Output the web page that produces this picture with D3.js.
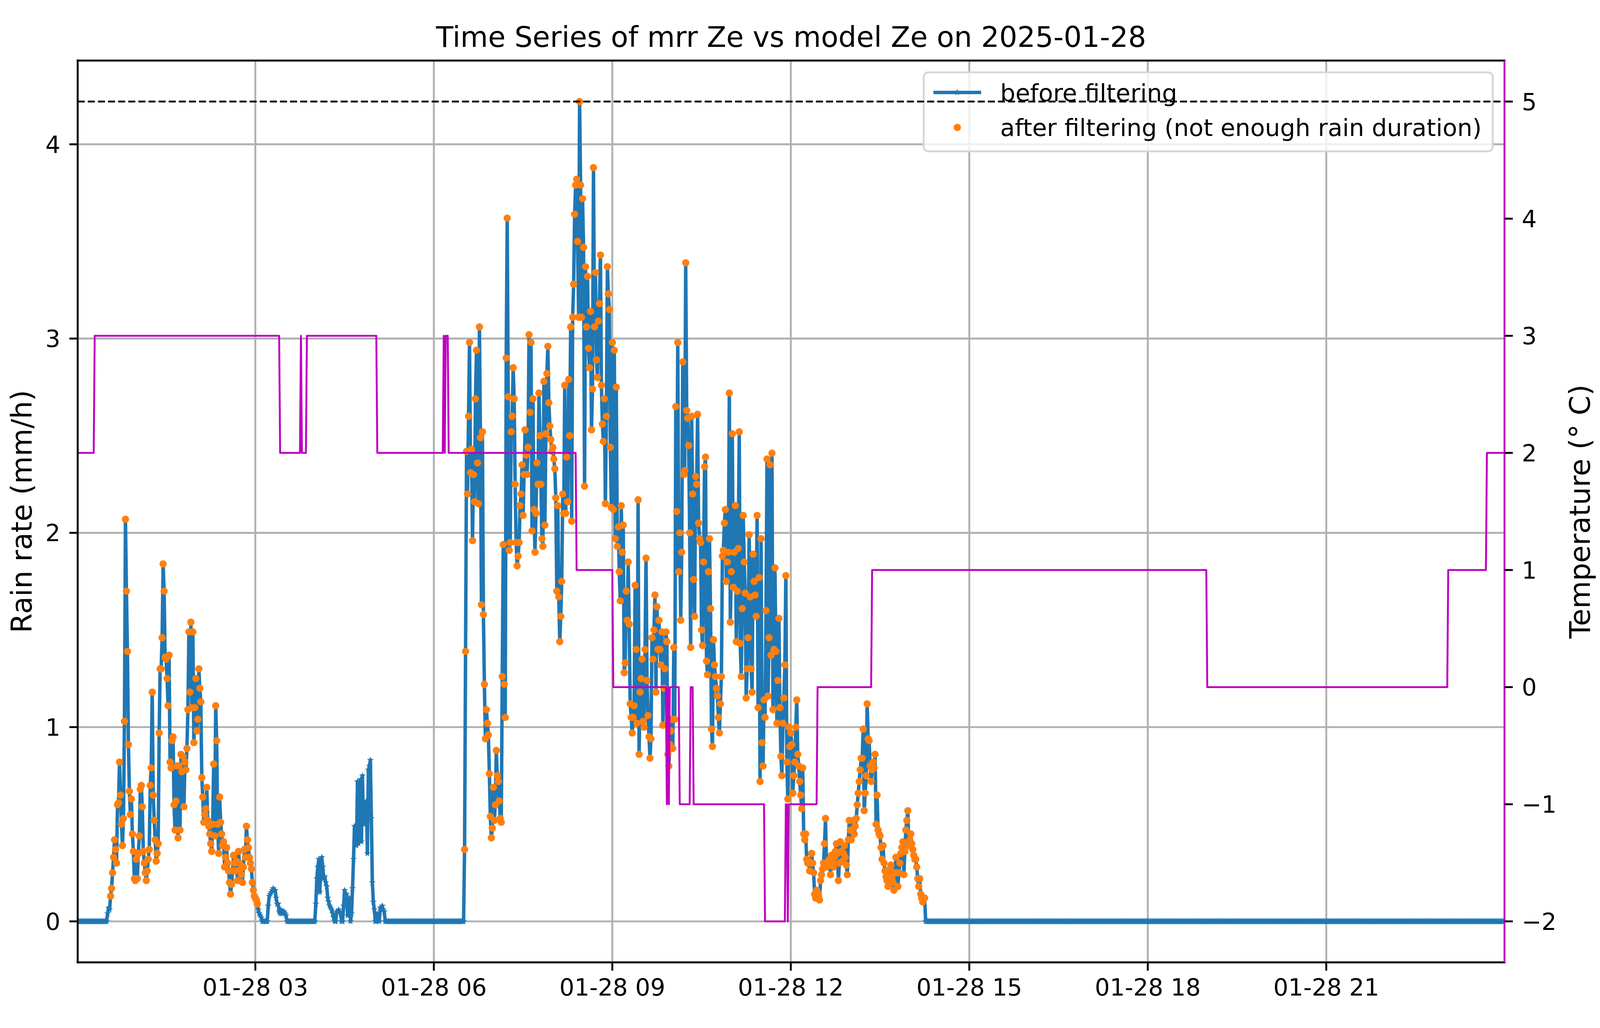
<!DOCTYPE html>
<html>
<head>
<meta charset="utf-8">
<script src="https://cdn.jsdelivr.net/npm/d3@7"></script>
<style>
html, body { margin: 0; padding: 0; background: #fff; overflow: hidden; }
text { font-family: "DejaVu Sans", sans-serif; fill: #000; }
</style>
</head>
<body>
<script>
// rain rate (mm/h), one value per minute for each rainy spell; zero elsewhere in the day
var event1Start = "00:30";
var event1 = [0, 0.04, 0.07, 0.06, 0.13, 0.17, 0.25, 0.33, 0.42, 0.37,
	0.30, 0.60, 0.61, 0.82, 0.65, 0.50, 0.39, 0.53, 1.03, 2.07,
	1.70, 1.39, 0.91, 0.67, 0.55, 0.63, 0.45, 0.36, 0.22, 0.21,
	0.32, 0.22, 0.35, 0.44, 0.68, 0.70, 0.59, 0.36, 0.30, 0.25,
	0.21, 0.26, 0.32, 0.37, 0.70, 0.79, 1.18, 0.65, 0.52, 0.42,
	0.31, 0.35, 0.40, 0.97, 1.30, 1.30, 1.46, 1.84, 1.70, 1.36,
	1.35, 1.25, 1.11, 1.37, 0.82, 0.79, 0.93, 0.95, 0.60, 0.47,
	0.62, 0.80, 0.43, 0.80, 0.47, 0.86, 0.77, 0.85, 0.59, 0.82,
	0.78, 0.89, 1.09, 1.49, 1.18, 1.54, 1.10, 1.49, 0.92, 1.10,
	1.25, 0.98, 1.04, 1.30, 1.20, 1.13, 0.74, 0.64, 0.51, 0.55,
	0.58, 0.69, 0.52, 0.49, 0.45, 0.40, 0.36, 0.50, 0.81, 0.44,
	1.11, 0.93, 0.50, 0.35, 0.64, 0.51, 0.45, 0.39, 0.41, 0.28,
	0.33, 0.38, 0.30, 0.26, 0.20, 0.14, 0.19, 0.26, 0.34, 0.30,
	0.26, 0.31, 0.21, 0.36, 0.30, 0.27, 0.24, 0.20, 0.28, 0.37,
	0.33, 0.49, 0.42, 0.38, 0.33, 0.30, 0.27, 0.20, 0.16, 0.13,
	0.12, 0.11, 0.09, 0.06, 0.04, 0.03, 0.02, 0, 0, 0,
	0, 0, 0, 0.08, 0.13, 0.14, 0.15, 0.16, 0.17, 0.16,
	0.16, 0.12, 0.09, 0.09, 0.05, 0.04, 0.06, 0.04, 0.05, 0.05,
	0.04, 0.03, 0];

var event2Start = "04:00";
var event2 = [0, 0.09, 0.22, 0.28, 0.32, 0.15, 0.26, 0.33, 0.28, 0.22,
	0.23, 0.20, 0.18, 0.12, 0.10, 0.08, 0.07, 0.06, 0.04, 0.02,
	0, 0, 0.05, 0.05, 0.06, 0.05, 0.04, 0, 0, 0.08,
	0.16, 0.13, 0.14, 0.03, 0.08, 0.12, 0, 0.04, 0.17, 0.32,
	0.49, 0.44, 0.39, 0.72, 0.40, 0.55, 0.73, 0.41, 0.75, 0.50,
	0.55, 0.58, 0.62, 0.35, 0.78, 0.80, 0.83, 0.53, 0.20, 0.10,
	0.06, 0, 0, 0.04, 0.02, 0, 0.07, 0.06, 0.08, 0.06,
	0.05, 0];

var event3Start = "06:29";
var event3 = [0, 0, 0.37, 1.39, 2.42, 2.20, 2.60, 2.98, 2.31, 2.43, 1.96,
	2.30, 2.16, 2.69, 2.94, 2.36, 2.15, 3.06, 2.49, 1.63, 2.52,
	1.58, 1.22, 0.94, 1.09, 1.02, 0.96, 0.76, 0.54, 0.43, 0.48,
	0.69, 0.52, 0.60, 0.88, 0.75, 0.72, 0.62, 0.53, 0.51, 1.26,
	1.94, 1.22, 1.05, 2.90, 3.62, 2.70, 1.91, 1.95, 2.52, 2.60,
	2.85, 2.69, 2.25, 1.95, 1.83, 1.88, 1.95, 2.14, 2.20, 2.35,
	2.09, 2.30, 2.53, 2.40, 2.30, 2.44, 3.02, 2.62, 2.98, 2.01,
	2.69, 2.12, 1.90, 2.10, 2.36, 2.25, 2.72, 2.50, 2.25, 1.97,
	1.93, 2.78, 2.04, 2.51, 2.82, 2.96, 2.67, 2.55, 2.48, 2.42,
	2.44, 2.38, 2.33, 2.18, 1.70, 2.14, 1.67, 1.44, 1.57, 1.75,
	2.20, 2.10, 2.76, 2.10, 2.39, 2.16, 2.79, 2.50, 3.06, 2.06,
	3.11, 3.28, 3.64, 3.79, 3.82, 3.50, 3.11, 4.22, 3.79, 3.11,
	3.72, 3.47, 2.24, 3.37, 3.06, 3.32, 2.95, 2.85, 3.14, 2.53,
	2.74, 3.88, 3.06, 3.34, 2.89, 2.80, 3.09, 3.18, 3.43, 2.76,
	2.56, 2.47, 2.69, 2.15, 2.60, 3.37, 3.23, 3.15, 2.44, 2.13,
	2.98, 2.12, 2.94, 1.97, 2.75, 1.93, 2.03, 1.80, 1.65, 2.14,
	1.90, 2.04, 1.28, 1.33, 1.70, 1.55, 1.85, 1.53, 1.12, 1.05,
	0.97, 1.05, 1.11, 1.73, 1.40, 1.02, 2.17, 0.86, 1.18, 1.25,
	1.35, 1.03, 1.00, 1.40, 1.87, 1.24, 1.06, 0.95, 0.84, 0.94,
	1.46, 1.35, 1.50, 1.68, 1.18, 1.62, 1.40, 1.55, 1.40, 1.32,
	1.49, 1.01, 1.20, 1.30, 1.49, 1.44, 0.86, 0.80, 0.91, 0.98,
	1.04, 0.89, 1.41, 1.04, 2.65, 2.11, 2.98, 1.80, 2.00, 1.55,
	1.90, 2.88, 2.30, 2.32, 3.39, 2.63, 2.59, 2.45, 2.00, 1.41,
	2.60, 2.20, 1.76, 1.57, 2.29, 2.25, 2.61, 2.05, 1.97, 1.95,
	1.50, 1.42, 1.85, 2.34, 2.39, 1.34, 1.27, 1.80, 1.97, 1.61,
	0.99, 0.90, 1.45, 1.32, 1.26, 1.20, 1.16, 1.05, 0.97, 1.12,
	1.26, 1.88, 1.91, 2.05, 2.12, 1.75, 1.85, 1.90, 2.72, 1.54,
	1.80, 2.51, 1.72, 1.90, 2.14, 1.44, 1.70, 1.92, 2.52, 1.43,
	1.26, 1.61, 2.09, 1.85, 1.69, 1.15, 1.30, 1.46, 1.99, 1.67,
	1.30, 1.18, 1.89, 1.75, 1.68, 1.57, 2.09, 1.10, 1.77, 0.72,
	1.97, 0.92, 0.80, 1.14, 1.05, 1.60, 2.38, 1.16, 1.46, 2.35,
	1.37, 2.41, 1.09, 1.40, 1.82, 1.39, 1.02, 1.24, 1.56, 1.10,
	0.85, 0.75, 1.02, 1.15, 1.32, 1.78, 0.82, 0.63, 1.00, 0.90,
	0.97, 0.91, 0.66, 0.75, 0.82, 1.00, 1.14, 0.86, 0.80, 0.72,
	0.65, 0.58, 0.79, 0.45, 0.42, 0.45, 0.32, 0.30, 0.31, 0.26,
	0.30, 0.35, 0.30, 0.25, 0.14, 0.12, 0.16, 0.15, 0.13, 0.11,
	0.21, 0.24, 0.27, 0.30, 0.40, 0.53, 0.28, 0.30, 0.31, 0.32,
	0.24, 0.34, 0.30, 0.28, 0.33, 0.36, 0.40, 0.35, 0.21, 0.30,
	0.41, 0.36, 0.31, 0.35, 0.39, 0.33, 0.29, 0.24, 0.42, 0.52,
	0.47, 0.42, 0.47, 0.52, 0.45, 0.49, 0.53, 0.60, 0.66, 0.72,
	0.78, 0.84, 0.84, 0.99, 0.57, 0.66, 0.75, 1.12, 0.94, 0.93,
	0.80, 0.72, 0.78, 0.82, 0.79, 0.86, 0.50, 0.65, 0.47, 0.45,
	0.44, 0.38, 0.32, 0.39, 0.30, 0.26, 0.23, 0.21, 0.18, 0.24,
	0.27, 0.29, 0.22, 0.20, 0.16, 0.25, 0.33, 0.25, 0.18, 0.25,
	0.30, 0.35, 0.38, 0.41, 0.24, 0.36, 0.47, 0.52, 0.57, 0.39,
	0.42, 0.45, 0.40, 0.37, 0.34, 0.32, 0.32, 0.28, 0.22, 0.18,
	0.22, 0.14, 0.12, 0.10, 0.12, 0.12, 0];

// spans that survive the rain-duration filter
var keptStart = ["00:34", "06:31"];
var keptEnd = ["03:02", "14:15"];

// model temperature (deg C): time it changes and the new value
var tempTimes = ["00:01", "00:18", "03:25", "03:46", "03:47", "03:52", "05:03",
	"06:10", "06:11", "06:12", "06:15", "08:24", "09:01", "09:55", "09:56",
	"09:57", "09:58", "10:08", "10:19", "10:22", "11:34", "11:55", "11:57",
	"11:58", "12:27", "13:22", "19:00", "23:03", "23:42"];
var tempValues = [2, 3, 2, 3, 2, 3, 2,
	3, 2, 3, 2, 1, 0, -1, 0,
	-1, 0, -1, 0, -1, -2, -1, -2,
	-1, 0, 1, 0, 1, 2];

var tempLine = 5;
var firstMinute = "00:01", lastMinute = "23:59";
var titleText = "Time Series of mrr Ze vs model Ze on 2025-01-28";
var legendLabels = ["before filtering", "after filtering (not enough rain duration)"];


function minuteOf(hm) {
	var p = hm.split(":");
	return (+p[0]) * 60 + (+p[1]);
}
function dateOf(m) {
	return new Date(2025, 0, 28, 0, m);
}

var m0 = minuteOf(firstMinute), m1 = minuteOf(lastMinute);
var rain = [];
for (var m = m0; m <= m1; m++) rain.push({t: dateOf(m), m: m, v: 0});
[[event1Start, event1], [event2Start, event2], [event3Start, event3]].forEach(function(e) {
	var s = minuteOf(e[0]);
	e[1].forEach(function(v, i) { rain[s + i - m0].v = v; });
});

var filtered = rain.filter(function(d) {
	return d.v > 0 && keptStart.some(function(s, i) {
		return d.m >= minuteOf(s) && d.m <= minuteOf(keptEnd[i]);
	});
});

var temp = [];
var k = 0;
for (var m = m0; m <= m1; m++) {
	while (k + 1 < tempTimes.length && minuteOf(tempTimes[k + 1]) <= m) k++;
	temp.push({t: dateOf(m), v: tempValues[k]});
}

// layout is laid out for 5211x2631 and fitted to the real window
var refW = 5211, refH = 2631;
var width = window.innerWidth || refW, height = window.innerHeight || refH;
var sx = width / refW, sy = height / refH, f = Math.sqrt(sx * sy);
var margin = {top: 155 * sy, right: 311 * sx, bottom: 168 * sy, left: 253 * sx};
var lw = 5.5 * f;

var x0 = margin.left, x1 = width - margin.right;
var yb = height - margin.bottom, yt = margin.top;

var x = d3.scaleTime()
	.domain([new Date(2025, 0, 28, 0, 0, 50), new Date(2025, 0, 28, 23, 59, 45)])
	.range([x0, x1]);

var rmax = d3.max(rain, function(d) { return d.v; });
var y = d3.scaleLinear()
	.domain([-0.05 * rmax, 1.05 * rmax])
	.range([yb, yt]);

var tmin = d3.min(temp, function(d) { return d.v; });
var tmax = Math.max(d3.max(temp, function(d) { return d.v; }), tempLine);
var tpad = 0.05 * (tmax - tmin);
var y2 = d3.scaleLinear()
	.domain([tmin - tpad, tmax + tpad])
	.range([yb, yt]);

var svg = d3.select("body").append("svg")
	.attr("width", width)
	.attr("height", height)
	.style("display", "block");

svg.append("rect").attr("width", width).attr("height", height).attr("fill", "#fff");

svg.append("clipPath").attr("id", "plot")
	.append("rect")
	.attr("x", x0).attr("y", yt)
	.attr("width", x1 - x0)
	.attr("height", yb - yt);

var xTicks = x.ticks(d3.timeHour.every(3));
var yTicks = y.ticks(5);
var y2Ticks = y2.ticks(8);

// grid
var grid = svg.append("g").attr("stroke", "#b0b0b0").attr("stroke-width", lw);
grid.selectAll(".gx").data(xTicks).enter().append("line")
	.attr("x1", function(d) { return x(d); }).attr("x2", function(d) { return x(d); })
	.attr("y1", yt).attr("y2", yb);
grid.selectAll(".gy").data(yTicks).enter().append("line")
	.attr("x1", x0).attr("x2", x1)
	.attr("y1", function(d) { return y(d); }).attr("y2", function(d) { return y(d); });

var plot = svg.append("g").attr("clip-path", "url(#plot)");

plot.append("path")
	.datum(rain)
	.attr("fill", "none")
	.attr("stroke", "#1f77b4")
	.attr("stroke-width", 10 * f)
	.attr("stroke-linejoin", "round")
	.attr("d", d3.line().x(function(d) { return x(d.t); }).y(function(d) { return y(d.v); }));

var star = d3.symbol().type(d3.symbolStar).size(124 * f * f);
plot.append("g").attr("fill", "#1f77b4")
	.selectAll("path")
	.data(rain)
	.enter().append("path")
	.attr("transform", function(d) { return "translate(" + x(d.t) + "," + y(d.v) + ")"; })
	.attr("d", star);

plot.append("g").attr("fill", "#ff7f0e")
	.selectAll("circle")
	.data(filtered)
	.enter().append("circle")
	.attr("cx", function(d) { return x(d.t); })
	.attr("cy", function(d) { return y(d.v); })
	.attr("r", 10.5 * f);

// legend of the rain axes, upper right
var lfs = 69 * f;
var leg = svg.append("g");
var box = leg.append("rect");
var texts = leg.selectAll("text").data(legendLabels).enter().append("text")
	.attr("font-size", lfs)
	.text(function(d) { return d; });
var textLen = d3.max(texts.nodes(), function(n) { return n.getComputedTextLength(); });
var lw_ = 221 * f + textLen + 32 * f, lh = 228 * f;
var lx = x1 - 34 * f - lw_, ly = yt + 34 * f;
box.attr("x", lx).attr("y", ly)
	.attr("width", lw_).attr("height", lh)
	.attr("rx", 14 * f)
	.attr("fill", "#fff").attr("fill-opacity", 0.8)
	.attr("stroke", "#d6d6d6").attr("stroke-width", lw);
texts.attr("x", lx + 221 * f)
	.attr("y", function(d, i) { return ly + (83 + 101 * i) * f; });
leg.append("line")
	.attr("x1", lx + 28 * f).attr("x2", lx + 166 * f)
	.attr("y1", ly + 58 * f).attr("y2", ly + 58 * f)
	.attr("stroke", "#1f77b4").attr("stroke-width", 10 * f);
leg.append("path")
	.attr("transform", "translate(" + (lx + 97 * f) + "," + (ly + 58 * f) + ")")
	.attr("d", star).attr("fill", "#1f77b4");
leg.append("circle")
	.attr("cx", lx + 97 * f).attr("cy", ly + 159 * f)
	.attr("r", 10.5 * f).attr("fill", "#ff7f0e");

// temperature axes, drawn on top
var plot2 = svg.append("g").attr("clip-path", "url(#plot)");
plot2.append("path")
	.datum(temp)
	.attr("fill", "none")
	.attr("stroke", "#bf00bf")
	.attr("stroke-width", lw)
	.attr("stroke-linejoin", "round")
	.attr("d", d3.line().x(function(d) { return x(d.t); }).y(function(d) { return y2(d.v); }));

plot2.append("line")
	.attr("x1", x0).attr("x2", x1)
	.attr("y1", y2(tempLine)).attr("y2", y2(tempLine))
	.attr("stroke", "#000").attr("stroke-width", lw)
	.attr("stroke-dasharray", (20.4 * f) + "," + (8.8 * f));

// spines
var sp = svg.append("g").attr("stroke-width", lw).attr("stroke-linecap", "square");
sp.append("line").attr("x1", x0).attr("x2", x0).attr("y1", yt).attr("y2", yb).attr("stroke", "#000");
sp.append("line").attr("x1", x0).attr("x2", x1).attr("y1", yt).attr("y2", yt).attr("stroke", "#000");
sp.append("line").attr("x1", x0).attr("x2", x1).attr("y1", yb).attr("y2", yb).attr("stroke", "#000");
sp.append("line").attr("x1", x1).attr("x2", x1).attr("y1", yt).attr("y2", yb).attr("stroke", "#bf00bf").attr("stroke-linecap", "butt");

// ticks and labels
var tl = 24 * f, pad = 26 * f, fs = 68 * f;
var ax = svg.append("g");
ax.selectAll(".tx").data(xTicks).enter().append("line")
	.attr("x1", function(d) { return x(d); }).attr("x2", function(d) { return x(d); })
	.attr("y1", yb).attr("y2", yb + tl)
	.attr("stroke", "#000").attr("stroke-width", lw);
ax.selectAll(".lx").data(xTicks).enter().append("text")
	.attr("x", function(d) { return x(d); })
	.attr("y", yb + tl + 22 * f + 0.729 * fs)
	.attr("text-anchor", "middle")
	.attr("font-size", fs)
	.text(d3.timeFormat("%m-%d %H"));

ax.selectAll(".ty").data(yTicks).enter().append("line")
	.attr("x1", x0 - tl).attr("x2", x0)
	.attr("y1", function(d) { return y(d); }).attr("y2", function(d) { return y(d); })
	.attr("stroke", "#000").attr("stroke-width", lw);
ax.selectAll(".ly").data(yTicks).enter().append("text")
	.attr("x", x0 - tl - pad)
	.attr("y", function(d) { return y(d); })
	.attr("dy", "0.36em")
	.attr("text-anchor", "end")
	.attr("font-size", fs)
	.text(function(d) { return d3.format("d")(d); });

var minus = function(d) { return d < 0 ? "\u2212" + Math.abs(d) : String(d); };
ax.selectAll(".ty2").data(y2Ticks).enter().append("line")
	.attr("x1", x1).attr("x2", x1 + tl)
	.attr("y1", function(d) { return y2(d); }).attr("y2", function(d) { return y2(d); })
	.attr("stroke", "#000").attr("stroke-width", lw);
ax.selectAll(".ly2").data(y2Ticks).enter().append("text")
	.attr("x", x1 + tl + pad)
	.attr("y", function(d) { return y2(d); })
	.attr("dy", "0.36em")
	.attr("font-size", fs)
	.text(minus);

var lab = 82 * f;
var midY = (yt + yb) / 2;
svg.append("text")
	.attr("transform", "translate(" + (x0 - 133 * f) + "," + midY + ") rotate(-90)")
	.attr("text-anchor", "middle")
	.attr("font-size", lab)
	.text("Rain rate (mm/h)");
svg.append("text")
	.attr("transform", "translate(" + (x1 + 246 * f) + "," + midY + ") rotate(-90)")
	.attr("text-anchor", "middle")
	.attr("font-size", lab)
	.text("Temperature (\u00b0 C)");

svg.append("text")
	.attr("x", (x0 + x1) / 2)
	.attr("y", yt - 40 * f)
	.attr("text-anchor", "middle")
	.attr("font-size", lab)
	.text(titleText);
</script>
</body>
</html>
